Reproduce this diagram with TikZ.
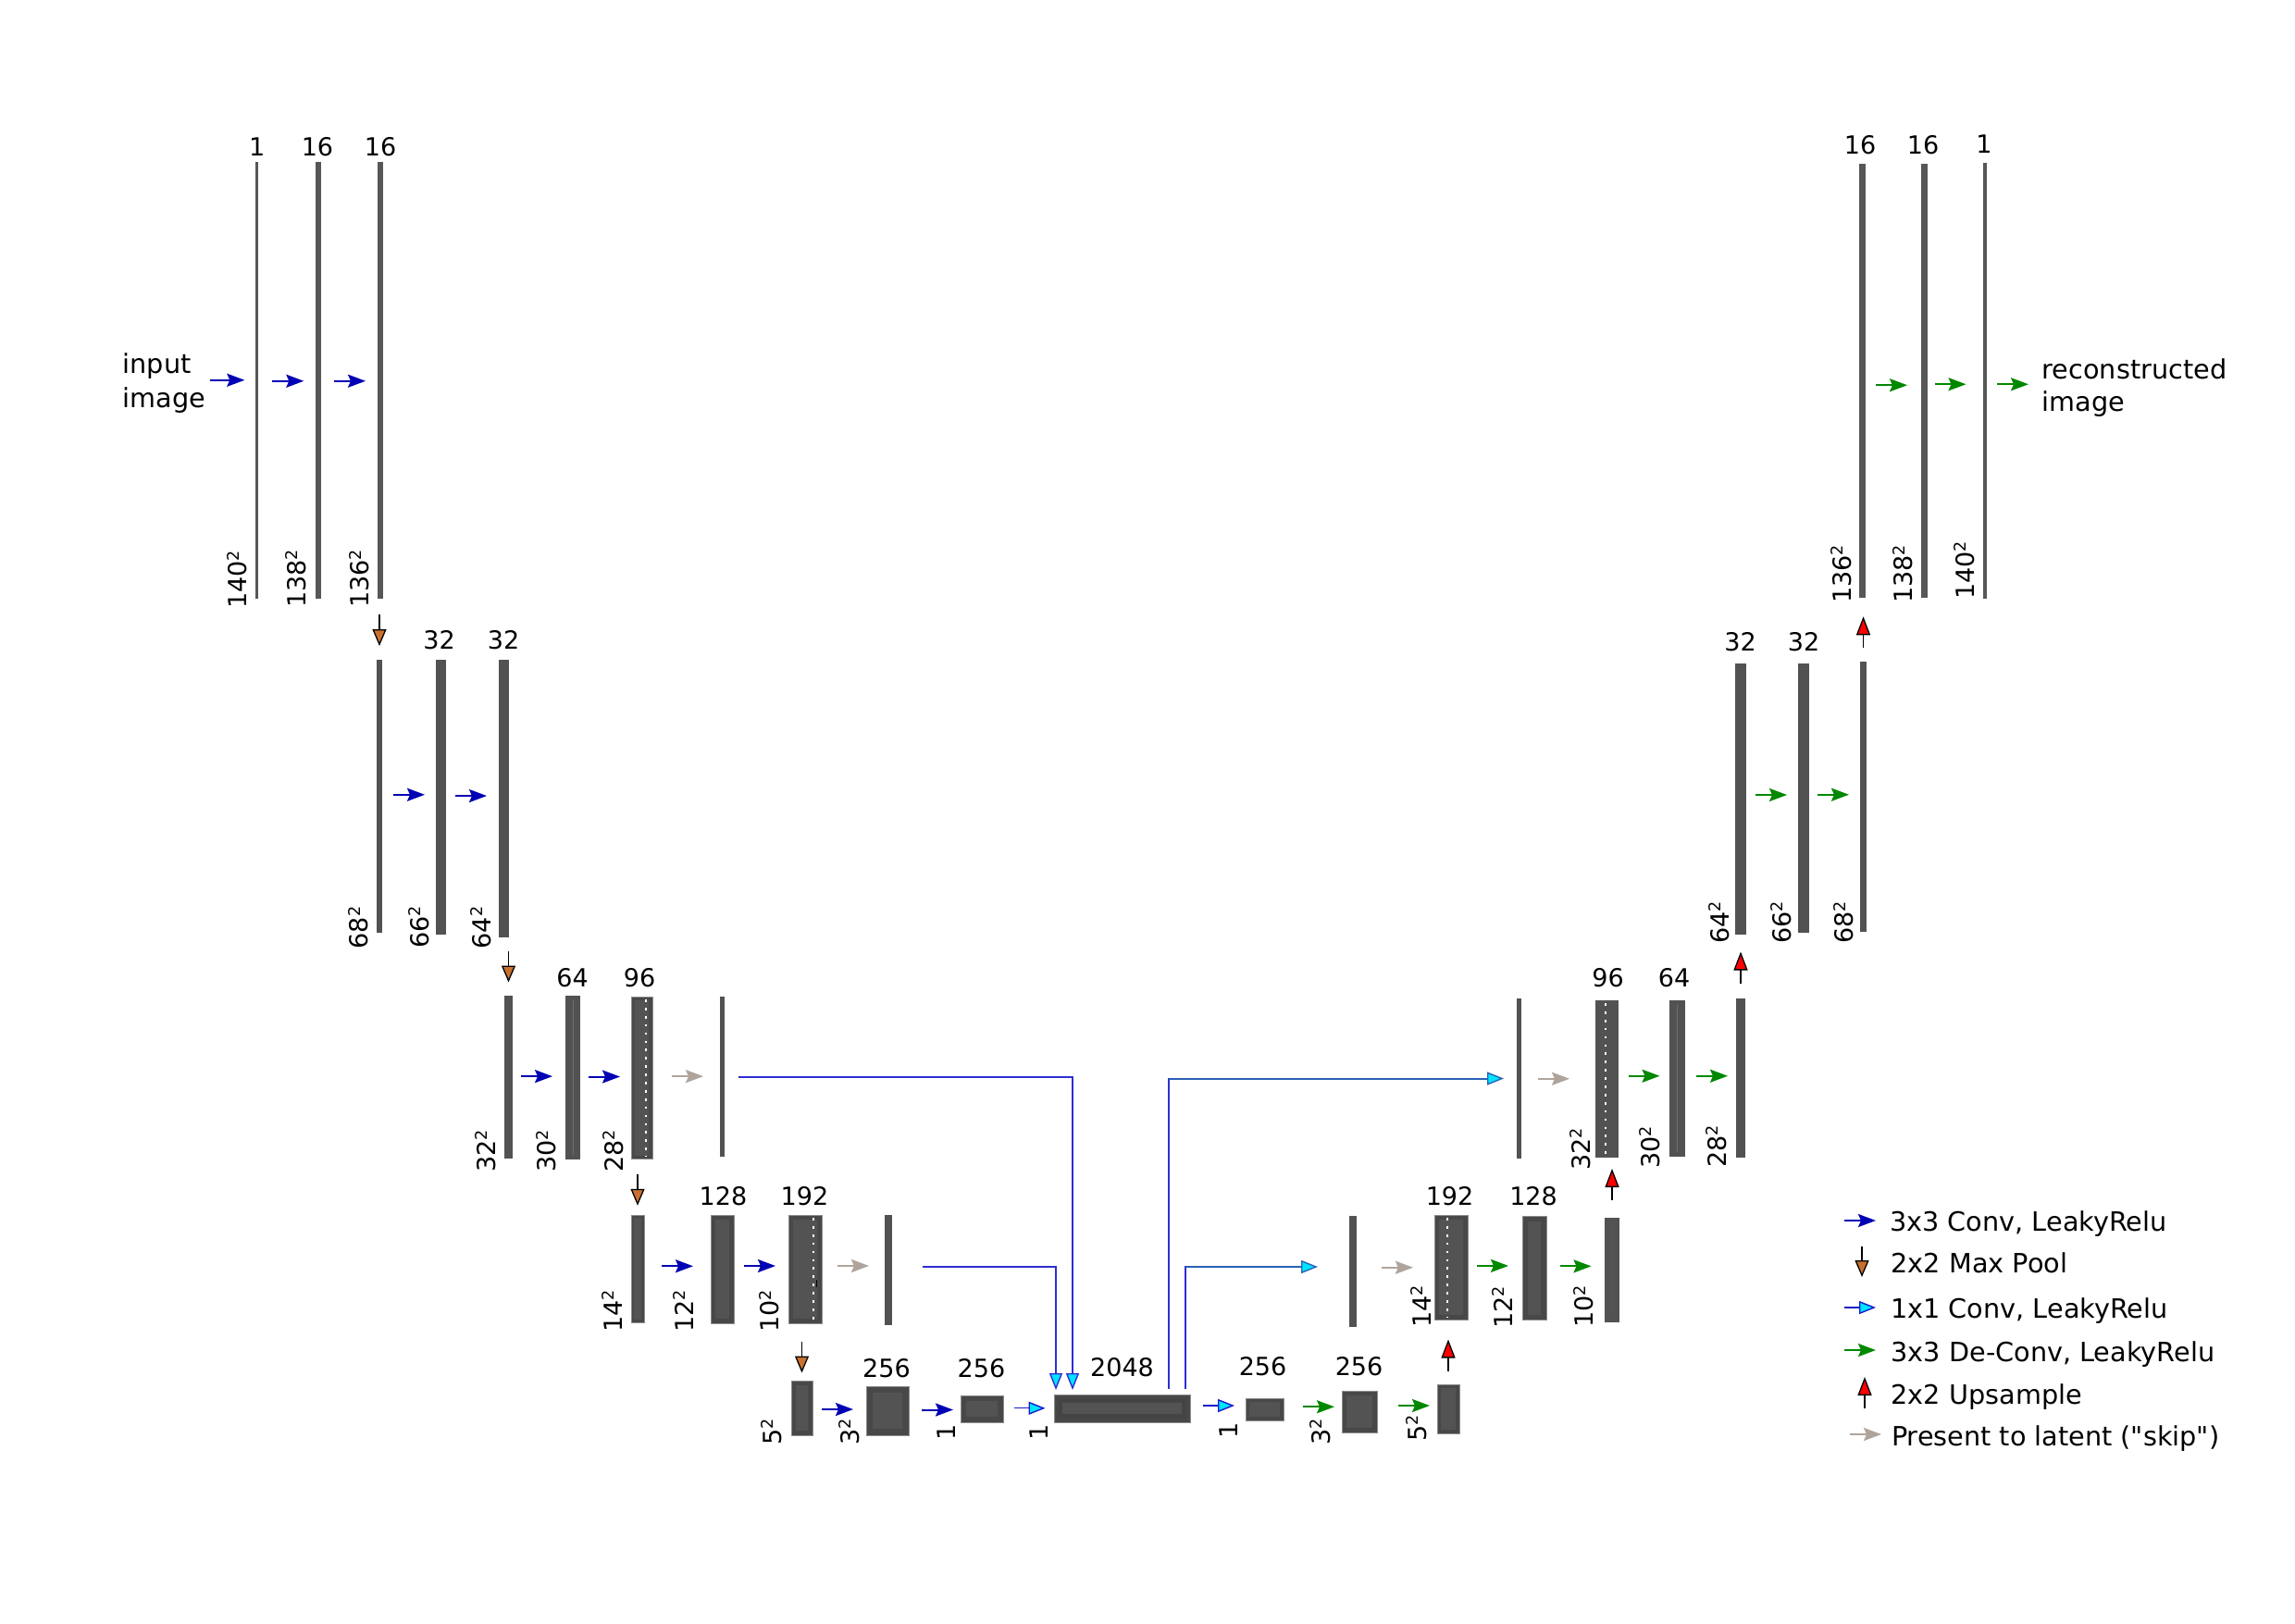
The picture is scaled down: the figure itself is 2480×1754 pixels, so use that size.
\documentclass[tikz,border=0pt]{standalone}
\usepackage{fontspec}
\setmainfont{DejaVu Sans}[Ligatures=TeXOff]
\usetikzlibrary{arrows.meta,calc}
\definecolor{barc}{HTML}{525252}
\definecolor{thinc}{HTML}{575757}
\definecolor{boxc}{HTML}{484848}
\definecolor{boxin}{HTML}{535353}
\definecolor{latring}{HTML}{444444}
\definecolor{boxline}{HTML}{8C8C8C}
\definecolor{lightline}{HTML}{707070}
\definecolor{convc}{HTML}{0000B4}
\definecolor{deconvc}{HTML}{008800}
\definecolor{skipc}{HTML}{AFA49B}
\definecolor{poolc}{HTML}{C8702F}
\definecolor{cyanc}{HTML}{00E5FF}
\definecolor{onelc}{HTML}{1A1ACC}
\definecolor{linkc}{HTML}{2E2ED2}
\definecolor{linkh}{HTML}{2A62B4}
\definecolor{redc}{HTML}{FF0000}
\newcommand\lblfont{\fontsize{27}{32}\selectfont}
\newcommand\txtfont{\fontsize{28.7}{35}\selectfont}
\newcommand\sqtwo{\raisebox{8.6pt}{\fontsize{17.5}{17.5}\selectfont 2}}
\newcommand\mkbar[6][]{\node[barsty,#1,minimum width={#4-#3},minimum height={#6-#5}] (#2) at ({(#3+#4)/2},{(#5+#6)/2}) {};}
\newcommand\innerbox[3]{\fill[#3] ([shift={(#2pt,-#2pt)}]#1.north west) rectangle ([shift={(-#2pt,#2pt)}]#1.south east);}
\newcommand\hhop[5]{\coordinate (tmpm) at ($(#2.east)!.5!(#3.west)$);
  \draw[#1] ([xshift={#4-17},yshift={#5}]tmpm) -- ([xshift={#4+17},yshift={#5}]tmpm);}
\newcommand\vdown[4]{\coordinate (tmpm) at ($(#2.south)!.5!(#3.north)$);
  \coordinate (tmpc) at (tmpm -| #3.north);
  \draw[#1] ([yshift={#4+17}]tmpc) -- ([yshift={#4-17}]tmpc);}
\newcommand\vup[4]{\coordinate (tmpm) at ($(#2.south)!.5!(#3.north)$);
  \coordinate (tmpc) at (tmpm -| #3.north);
  \draw[#1] ([yshift={#4-17}]tmpc) -- ([yshift={#4+17}]tmpc);}
\tikzset{
  barsty/.style={rectangle,inner sep=0pt,outer sep=0pt,fill=barc,draw=none},
  thin/.style={fill=thinc},
  boxed/.style={fill=boxc,draw=boxline,line width=0.8pt},
  conv/.style={draw=convc,line width=2pt,-{Stealth[length=19pt,width=14pt,inset=3pt]}},
  deconv/.style={draw=deconvc,line width=2pt,-{Stealth[length=19pt,width=14pt,inset=3pt]}},
  skipa/.style={draw=skipc,line width=2pt,-{Stealth[length=19pt,width=14pt,inset=3pt]}},
  poolar/.style={draw=black,line width=1.3pt,-{Triangle[length=18pt,width=15pt,fill=poolc]}},
  upar/.style={draw=black,line width=1.3pt,-{Triangle[length=20pt,width=15pt,fill=redc]}},
  onec/.style={draw=onelc,line width=1.4pt,-{Triangle[length=18pt,width=14pt,fill=cyanc]}},
  linkL/.style={draw=linkc,line width=2pt,-{Triangle[length=18pt,width=14pt,fill=cyanc,line width=1.4pt]}},
  linkV/.style={draw=linkc,line width=2pt},
  linkH/.style={draw=linkh,line width=2pt,-{Triangle[length=18pt,width=14pt,fill=cyanc,line width=1.4pt]}},
  dotl/.style={draw=white,line width=2.7pt,dash pattern=on 2.7pt off 6.2pt},
  lbl/.style={font=\lblfont,inner sep=0pt,anchor=base},
  blbl/.style={font=\lblfont,inner sep=0pt,rotate=90,anchor=base west},
  txt/.style={font=\txtfont,inner sep=0pt,anchor=base west}
}
\begin{document}
\begin{tikzpicture}[x=1pt,y=-1pt]
\fill[white] (0,0) rectangle (2480,1754);
\useasboundingbox (0,0) rectangle (2480,1754);

% ---- bars ----
\mkbar[thin]{b1a}{276.3}{279.3}{175}{646.5}
\mkbar[thin]{b1b}{341.3}{346.7}{175}{646.5}
\mkbar[thin]{b1c}{408.3}{413.7}{175}{646.5}
\mkbar{b2a}{407}{413}{712.6}{1008}
\mkbar{b2b}{471}{482}{712.6}{1010}
\mkbar{b2c}{539}{550}{712.6}{1013}
\mkbar{b3a}{545}{554}{1076}{1252}
\mkbar{b3b}{611}{627}{1076}{1252.5}
\mkbar[boxed]{b3c}{682}{705}{1077}{1252.5}
\mkbar{s3}{778}{782.6}{1077}{1250}
\mkbar[boxed]{b4a}{682}{696}{1313}{1429}
\mkbar[boxed]{b4b}{768}{793}{1313}{1430}
\mkbar[boxed]{b4c}{852}{888}{1313}{1430}
\mkbar{s4}{956}{964}{1313}{1432}
\mkbar[boxed]{c5a}{855}{878}{1492}{1551}
\mkbar[boxed]{c5b}{936}{982}{1498}{1551}
\mkbar[boxed]{c5c}{1038}{1084}{1508}{1537}
\mkbar[boxed]{lat}{1139}{1286}{1507}{1537}
\mkbar[boxed]{d5a}{1346}{1387}{1511}{1535}
\mkbar[boxed]{d5b}{1450}{1488}{1503}{1548}
\mkbar[boxed]{d5c}{1553}{1577}{1496}{1549}
\mkbar{s4r}{1457.5}{1465.7}{1314}{1434}
\mkbar[boxed]{e4a}{1550}{1586}{1313}{1426}
\mkbar[boxed]{e4b}{1645}{1671}{1314}{1426.7}
\mkbar{e4c}{1734}{1750}{1316}{1428.7}
\mkbar{s3r}{1639}{1644}{1079}{1252}
\mkbar{f3a}{1724}{1749}{1081}{1251}
\mkbar{f3b}{1804}{1821}{1081}{1250}
\mkbar{f3c}{1876}{1886}{1079}{1251}
\mkbar{g2a}{1875}{1887}{717}{1010}
\mkbar{g2b}{1943}{1955}{717}{1008}
\mkbar{g2c}{2010}{2017}{715}{1007}
\mkbar[thin]{h1a}{2009}{2016}{177}{645.5}
\mkbar[thin]{h1b}{2076}{2083}{177}{645.5}
\mkbar[thin]{h1c}{2143}{2147}{176}{646.5}

% ---- inner details ----
\innerbox{b3c}{4}{boxin}
\innerbox{b4a}{3}{boxin}
\innerbox{b4b}{5}{boxin}
\innerbox{b4c}{5}{boxin}
\innerbox{c5a}{5}{boxin}
\innerbox{c5b}{7}{boxin}
\innerbox{c5c}{6}{boxin}
\innerbox{lat}{4}{latring}
\innerbox{lat}{9}{boxin}
\innerbox{d5a}{4}{boxin}
\innerbox{d5b}{5}{boxin}
\innerbox{d5c}{4}{boxin}
\innerbox{e4a}{5}{boxin}
\innerbox{e4b}{6}{boxin}
\innerbox{e4c}{6}{boxin}
\draw[lightline,line width=1pt] ([yshift=-5pt]b3b.north) -- ([yshift=5pt]b3b.south);
\draw[lightline,line width=1pt] ([yshift=-5pt]f3b.north) -- ([yshift=5pt]f3b.south);
\draw[dotl] ([xshift=16pt,yshift=-3pt]b3c.north west) -- ([xshift=16pt,yshift=3pt]b3c.south west);
\draw[dotl] ([xshift=27pt,yshift=-3pt]b4c.north west) -- ([xshift=27pt,yshift=3pt]b4c.south west);
\draw[dotl] ([xshift=14pt,yshift=-3pt]e4a.north west) -- ([xshift=14pt,yshift=3pt]e4a.south west);
\draw[dotl] ([xshift=11pt,yshift=-3pt]f3a.north west) -- ([xshift=11pt,yshift=3pt]f3a.south west);
\draw[black,line width=1.2pt] ([xshift=30.5pt,yshift=-70pt]b4c.north west) -- ([xshift=30.5pt,yshift=-78pt]b4c.north west);

% ---- texts ----
\node[txt] (inA) at (132.5,403.8) {input};
\node[txt] (inB) at (132.5,440) {image};
\node[txt] (recA) at (2206.5,409) {reconstructed};
\node[txt] (recB) at (2206.5,444.5) {image};

% ---- short arrows ----
\coordinate (inarr) at ([xshift=5pt]inB.east);
\draw[conv,shorten >=12pt] (inarr |- b1a.west) -- (b1a.west);
\hhop{conv}{b1a}{b1b}{1}{-1}
\hhop{conv}{b1b}{b1c}{0.5}{-1}
\vdown{poolar}{b1c}{b2a}{-1.5}
\hhop{conv}{b2a}{b2b}{0}{2}
\hhop{conv}{b2b}{b2c}{-1.5}{2}
\vdown{poolar}{b2c}{b3a}{0}
\hhop{conv}{b3a}{b3b}{-2.5}{1}
\hhop{conv}{b3b}{b3c}{-1.5}{1}
\hhop{skipa}{b3c}{s3}{1.5}{1}
\vdown{poolar}{b3c}{b4a}{-3}
\hhop{conv}{b4a}{b4b}{0}{3}
\hhop{conv}{b4b}{b4c}{-1.5}{3.5}
\hhop{skipa}{b4c}{s4}{0}{4}
\vdown{poolar}{b4c}{c5a}{-5.5}
\hhop{conv}{c5a}{c5b}{-2}{0}
\hhop{conv}{c5b}{c5c}{3}{0}
\hhop{onec}{c5c}{lat}{1}{0.5}
\hhop{onec}{lat}{d5a}{1}{3.5}
\hhop{deconv}{d5a}{d5b}{6.5}{4}
\hhop{deconv}{d5b}{d5c}{7.5}{5}
\vup{upar}{e4a}{d5c}{-3.5}
\hhop{skipa}{s4r}{e4a}{2}{2}
\hhop{deconv}{e4a}{e4b}{-2.5}{2}
\hhop{deconv}{e4b}{e4c}{0}{3}
\vup{upar}{f3a}{e4c}{3.5}
\hhop{skipa}{s3r}{f3a}{-5}{0}
\hhop{deconv}{f3a}{f3b}{0}{3}
\hhop{deconv}{f3b}{f3c}{1.5}{2.5}
\vup{upar}{g2a}{f3c}{-1}
\hhop{deconv}{g2a}{g2b}{-1}{4}
\hhop{deconv}{g2b}{g2c}{-1.5}{3}
\vup{upar}{h1a}{g2c}{-3}
\hhop{deconv}{h1a}{h1b}{-2}{-5}
\hhop{deconv}{h1b}{h1c}{-5.5}{-4}
\coordinate (outs) at ([yshift=-4pt]h1c.east);
\coordinate (outarr) at ([xshift=-14.5pt]recA.west);
\draw[deconv,shorten <=11pt] (outs) -- (outarr |- outs);

% ---- long skip links ----
\draw[linkL] ([xshift=15pt]s3.east) -| ([xshift=20pt,yshift=5pt]lat.north west);
\draw[linkL] ([xshift=33pt,yshift=4pt]s4.east) -| ([xshift=2pt,yshift=5pt]lat.north west);
\coordinate (r1a) at ([xshift=-23pt,yshift=6pt]lat.north east);
\coordinate (r1b) at (r1a |- s3r.west);
\draw[linkV] (r1a) -- ([yshift=1pt]r1b);
\draw[linkH,shorten >=14pt] (r1b) -- (s3r.west);
\coordinate (r2a) at ([xshift=-5pt,yshift=6pt]lat.north east);
\coordinate (r2t) at ([yshift=5pt]s4r.west);
\coordinate (r2b) at (r2a |- r2t);
\draw[linkV] (r2a) -- ([yshift=1pt]r2b);
\draw[linkH,shorten >=33.5pt] (r2b) -- (r2t);

% ---- top labels ----
\node[lbl] (tb1a) at (277.7,168) {1};
\node[lbl] (tb1b) at (343,168) {16};
\node[lbl] (tb1c) at (411,168) {16};
\node[lbl] (tb2b) at (474.5,701.5) {32};
\node[lbl] (tb2c) at (544,701.5) {32};
\node[lbl] (tb3b) at (618.5,1066) {64};
\node[lbl] (tb3c) at (691,1066) {96};
\node[lbl] (tb4b) at (781.5,1302.5) {128};
\node[lbl] (tb4c) at (869.5,1302.5) {192};
\node[lbl] (tc5b) at (958,1488) {256};
\node[lbl] (tc5c) at (1060.5,1488) {256};
\node[lbl] (tlat) at (1212.5,1487) {2048};
\node[lbl] (td5a) at (1364.5,1486) {256};
\node[lbl] (td5b) at (1468.5,1486) {256};
\node[lbl] (te4a) at (1566.5,1302) {192};
\node[lbl] (te4b) at (1657,1302) {128};
\node[lbl] (tf3a) at (1737.5,1066.5) {96};
\node[lbl] (tf3b) at (1809,1066.5) {64};
\node[lbl] (tg2a) at (1880.5,703.5) {32};
\node[lbl] (tg2b) at (1949,703.5) {32};
\node[lbl] (th1a) at (2010,166) {16};
\node[lbl] (th1b) at (2078,166) {16};
\node[lbl] (th1c) at (2144,165) {1};

% ---- bottom labels ----
\node[blbl] (lb1a) at (266.7,658) {140\sqtwo};
\node[blbl] (lb1b) at (330,657) {138\sqtwo};
\node[blbl] (lb1c) at (398.7,657) {136\sqtwo};
\node[blbl] (lb2a) at (397.7,1025.5) {68\sqtwo};
\node[blbl] (lb2b) at (463.3,1025) {66\sqtwo};
\node[blbl] (lb2c) at (530,1025.5) {64\sqtwo};
\node[blbl] (lb3a) at (535,1267) {32\sqtwo};
\node[blbl] (lb3b) at (600.7,1267) {30\sqtwo};
\node[blbl] (lb3c) at (673,1267) {28\sqtwo};
\node[blbl] (lb4a) at (672.3,1440) {14\sqtwo};
\node[blbl] (lb4b) at (749,1440) {12\sqtwo};
\node[blbl] (lb4c) at (841.7,1440) {10\sqtwo};
\node[blbl] (lc5a) at (844,1562) {5\sqtwo};
\node[blbl] (lc5b) at (928,1562) {3\sqtwo};
\node[blbl] (lc5c) at (1032.7,1557) {1};
\node[blbl] (llat) at (1132.7,1557) {1};
\node[blbl] (ld5a) at (1337.5,1555) {1};
\node[blbl] (ld5b) at (1437.5,1562) {3\sqtwo};
\node[blbl] (ld5c) at (1541,1558) {5\sqtwo};
\node[blbl] (le4a) at (1546.4,1435) {14\sqtwo};
\node[blbl] (le4b) at (1634,1436) {12\sqtwo};
\node[blbl] (le4c) at (1721.7,1435) {10\sqtwo};
\node[blbl] (lf3a) at (1718,1265) {32\sqtwo};
\node[blbl] (lf3b) at (1793.3,1263) {30\sqtwo};
\node[blbl] (lf3c) at (1865,1262) {28\sqtwo};
\node[blbl] (lg2a) at (1868.3,1020) {64\sqtwo};
\node[blbl] (lg2b) at (1935,1020) {66\sqtwo};
\node[blbl] (lg2c) at (2002.7,1020) {68\sqtwo};
\node[blbl] (lh1a) at (2000,652) {136\sqtwo};
\node[blbl] (lh1b) at (2066.7,652) {138\sqtwo};
\node[blbl] (lh1c) at (2133,648) {140\sqtwo};

% ---- legend ----
\node[txt] (lg1) at (2042,1330) {3x3 Conv, LeakyRelu};
\node[txt] (lg2) at (2043.5,1375) {2x2 Max Pool};
\node[txt] (lg3) at (2043,1424.3) {1x1 Conv, LeakyRelu};
\node[txt] (lg4) at (2043.5,1471.7) {3x3 De-Conv, LeakyRelu};
\node[txt] (lg5) at (2043.5,1517.3) {2x2 Upsample};
\node[txt] (lg6) at (2043.8,1562.7) {Present to latent ("skip")};
\draw[conv] ([shift={(-49pt,11pt)}]lg1.base west) -- ([shift={(-15pt,11pt)}]lg1.base west);
\draw[poolar] ([shift={(-31.5pt,28pt)}]lg2.base west) -- ([shift={(-31.5pt,-5pt)}]lg2.base west);
\draw[onec] ([shift={(-50pt,11.3pt)}]lg3.base west) -- ([shift={(-16pt,11.3pt)}]lg3.base west);
\draw[deconv] ([shift={(-50.5pt,12.7pt)}]lg4.base west) -- ([shift={(-16.5pt,12.7pt)}]lg4.base west);
\draw[upar] ([shift={(-28.5pt,-4.7pt)}]lg5.base west) -- ([shift={(-28.5pt,29.3pt)}]lg5.base west);
\draw[skipa] ([shift={(-44.8pt,12.7pt)}]lg6.base west) -- ([shift={(-10.8pt,12.7pt)}]lg6.base west);
\end{tikzpicture}
\end{document}
